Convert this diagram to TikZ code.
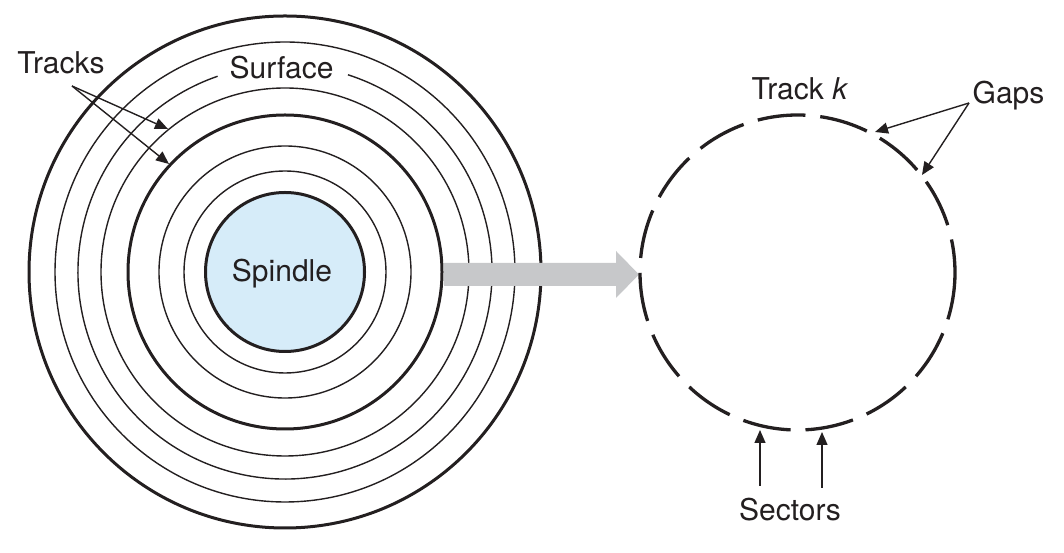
\documentclass[tikz,border=0pt]{standalone}
\usepackage{fontspec}
\setmainfont{TeX Gyre Heros}
\usetikzlibrary{arrows.meta}
\definecolor{ink}{RGB}{35,31,32}
\definecolor{spindlefill}{RGB}{214,236,249}
\definecolor{arrowgray}{RGB}{199,200,202}
\begin{document}
\begin{tikzpicture}[x=1pt,y=1pt,
  thickring/.style={draw=ink,line width=3pt},
  thinring/.style={draw=ink,line width=1.4pt},
  sectorline/.style={draw=ink,line width=3.3pt},
  lbl/.style={font=\fontsize{30}{36}\selectfont,text=ink,inner sep=0pt,anchor=base},
  pointer/.style={draw=ink,line width=1.4pt,-{Triangle[length=13pt,width=11pt]}}]
\useasboundingbox (0,0) rectangle (1064,553);
% left disk
\coordinate (L) at (285,281);
\draw[thickring] (L) circle (256);
\draw[thinring] (L) circle (230);
\draw[thinring] (L) ++(109:207) arc (109:432.3:207);
\draw[thinring] (L) circle (184);
\draw[thickring] (L) circle (157);
\draw[thinring] (L) circle (126);
\draw[thinring] (L) circle (101);
\node[circle,draw=ink,line width=3pt,fill=spindlefill,minimum size=159pt,inner sep=0pt] (spindle) at (L) {};
\node[lbl] (spindletext) at (282,271) {Spindle};
\node[lbl] (surface) at (281.5,474) {Surface};
\node[lbl] (tracks) at (61,479) {Tracks};
\coordinate (tracksfrom) at (72,467);
\coordinate (trackA) at (168,424);
\coordinate (trackB) at (169,389);
\draw[pointer] (tracksfrom) -- (trackA);
\draw[pointer] (tracksfrom) -- (trackB);
% big arrow
\fill[arrowgray] (444,267) -- (616,267) -- (616,255) -- (639,278.5) -- (616,302) -- (616,290) -- (444,290) -- cycle;
% right track
\coordinate (R) at (797.5,280.5);
\foreach \a/\b in {17.5/35.2,40.6/58.5,63.9/81.7,87.1/104.6,110.0/128.0,133.4/151.4,156.8/174.7,180.1/197.9,203.3/221.2,226.6/244.5,249.9/267.5,272.9/290.6,296.0/313.4,318.8/337.3,342.7/372.1}
  \draw[sectorline] (R) ++(\a:157.5) arc (\a:\b:157.5);
\node[lbl] (trackk) at (800,453) {Track \textit{k}};
\node[lbl] (gaps) at (1008.5,449) {Gaps};
\coordinate (gapsfrom) at (969,450);
\coordinate (gapA) at (875,421);
\coordinate (gapB) at (922,378);
\draw[pointer] (gapsfrom) -- (gapA);
\draw[pointer] (gapsfrom) -- (gapB);
\node[lbl] (sectors) at (790,32) {Sectors};
\coordinate (secAfrom) at (760,67);
\coordinate (secA) at (760,123);
\coordinate (secBfrom) at (822,65);
\coordinate (secB) at (822,121);
\draw[pointer] (secAfrom) -- (secA);
\draw[pointer] (secBfrom) -- (secB);
\end{tikzpicture}
\end{document}
